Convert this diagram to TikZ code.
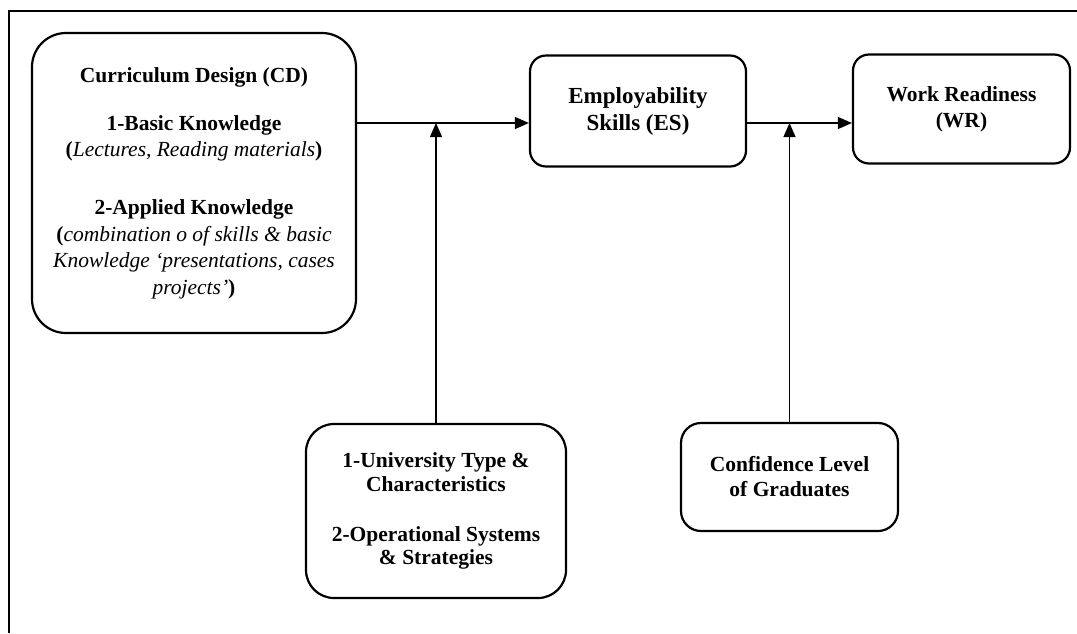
\documentclass[tikz,border=0pt]{standalone}
\usepackage{fontspec}
\setmainfont{Liberation Serif}
\usetikzlibrary{arrows.meta}
\begin{document}
\begin{tikzpicture}[x=1pt,y=-1pt,
  box/.style={draw, line width=2.2pt, rounded corners=#1, align=center, inner sep=0pt},
  box/.default=16pt,
  txt/.style={font=\fontsize{21.5}{#1}\selectfont\bfseries},
  arr/.style={line width=1.2pt, -{Triangle[length=14pt,width=12pt]}},
  frame/.style={line width=2pt}]
\useasboundingbox (0,0) rectangle (1077,633);
\draw[frame] (9,633) -- (9,11) -- (1077,11);

\node[box=34pt, txt=26.5, minimum width=324pt, minimum height=300pt] (CD) at (194,183)
  {Curriculum Design (CD)\\[21.5pt]
   1-Basic Knowledge\\
   (\textit{\mdseries Lectures, Reading materials})\\[31.5pt]
   2-Applied Knowledge\\
   (\textit{\mdseries combination o of skills \& basic}\\
   \textit{\mdseries Knowledge ‘presentations, cases}\\
   \textit{\mdseries projects’})};

\node[box=16pt, font=\fontsize{23}{27}\selectfont\bfseries, minimum width=216pt, minimum height=111pt] (ES) at (638,111)
  {Employability\\Skills (ES)};

\node[box=16pt, txt=26, minimum width=217pt, minimum height=109pt] (WR) at (961.5,109)
  {Work Readiness\\(WR)};

\node[box=28pt, txt=23.5, minimum width=260pt, minimum height=174pt] (UT) at (436,511)
  {1-University Type \&\\Characteristics\\[26.5pt]
   2-Operational Systems\\\& Strategies\hspace*{0pt}};

\node[box=20pt, txt=25, minimum width=217pt, minimum height=108pt] (CL) at (789.5,477)
  {Confidence Level\\of Graduates};

\coordinate (j1) at (436,123);
\coordinate (j2) at (789.5,123);

\draw[arr] (CD.east |- j1) -- (ES.west |- j1);
\draw[arr] (ES.east |- j2) -- (WR.west |- j2);
\draw[arr] (UT.north) -- (j1);
\draw[arr] (CL.north) -- (j2);
\end{tikzpicture}
\end{document}
